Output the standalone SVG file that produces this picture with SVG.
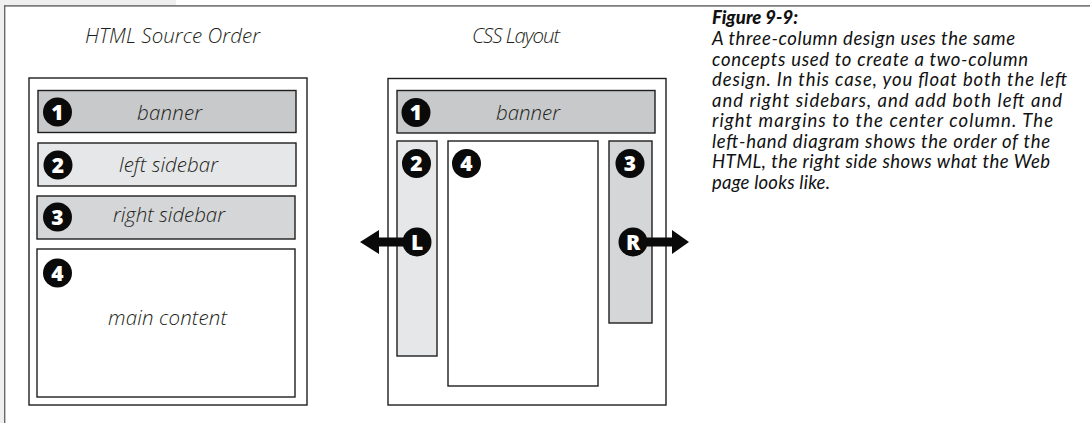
<svg xmlns="http://www.w3.org/2000/svg" width="1090" height="423" viewBox="0 0 1090 423">
  <style>
    .box { stroke: #1e1e1e; stroke-width: 1.4; }
    .outer { fill: #ffffff; }
    .banner { fill: #c8c9cb; }
    .left { fill: #e6e7e8; }
    .right { fill: #d5d6d8; }
    .main { fill: #ffffff; }
    .lbl { font-family: "Open Sans", "Liberation Sans", sans-serif; font-style: italic; font-weight: 300; font-size: 20.5px; fill: #231f20; text-anchor: middle; }
    .badge { fill: #0a0a0a; }
    .num { font-family: "Open Sans", "Liberation Sans", sans-serif; font-weight: 800; font-size: 21px; fill: #ffffff; text-anchor: middle; }
    .cap { font-family: Lato, "Liberation Sans", sans-serif; font-style: italic; font-size: 18.5px; fill: #111111; }
    .capHead { font-weight: 900; font-size: 18.5px; }
    .arrow { fill: #0a0a0a; }
  </style>

  <!-- page frame -->
  <rect x="0" y="0" width="1090" height="423" fill="#ffffff"/>
  <rect x="0" y="0" width="176" height="5" fill="#efefef"/>
  <rect x="0" y="0" width="4" height="423" fill="#efefef"/>
  <line x1="4" y1="5.8" x2="1090" y2="5.8" stroke="#7d7d7d" stroke-width="1.8"/>
  <line x1="4.7" y1="5" x2="4.7" y2="423" stroke="#6a6a6a" stroke-width="1.4"/>

  <!-- column titles -->
  <text class="lbl" x="172.5" y="43" textLength="175">HTML Source Order</text>
  <text class="lbl" x="516" y="43" textLength="88">CSS Layout</text>

  <!-- HTML source order stack -->
  <g id="source-order">
    <rect class="box outer" x="29" y="78" width="278" height="327"/>
    <g id="src-banner">
      <rect class="box banner" x="38" y="90.5" width="258" height="42"/>
      <circle class="badge" cx="57.5" cy="112" r="14.5"/>
      <text class="num" x="57.5" y="119.5">1</text>
      <text class="lbl" x="169.5" y="120" textLength="65">banner</text>
    </g>
    <g id="src-left-sidebar">
      <rect class="box left" x="38" y="143" width="258" height="43"/>
      <circle class="badge" cx="58" cy="165" r="14.5"/>
      <text class="num" x="58" y="172.5">2</text>
      <text class="lbl" x="168.5" y="172" textLength="99">left sidebar</text>
    </g>
    <g id="src-right-sidebar">
      <rect class="box right" x="37" y="196" width="258" height="43"/>
      <circle class="badge" cx="57.5" cy="217" r="14.5"/>
      <text class="num" x="57.5" y="224.5">3</text>
      <text class="lbl" x="169" y="222" textLength="112">right sidebar</text>
    </g>
    <g id="src-main">
      <rect class="box main" x="37" y="249" width="258" height="148"/>
      <circle class="badge" cx="57.5" cy="273" r="14.5"/>
      <text class="num" x="57.5" y="280.5">4</text>
      <text class="lbl" x="167.5" y="325" textLength="119">main content</text>
    </g>
  </g>

  <!-- CSS layout -->
  <g id="css-layout">
    <rect class="box outer" x="388" y="78.5" width="278" height="326.5"/>
    <g id="css-banner">
      <rect class="box banner" x="397" y="90.5" width="258" height="42.5"/>
      <circle class="badge" cx="416" cy="112.5" r="14.5"/>
      <text class="num" x="416" y="120">1</text>
      <text class="lbl" x="528" y="119.5" textLength="64">banner</text>
    </g>
    <g id="css-left-column">
      <rect class="box left" x="397" y="141" width="40" height="215"/>
      <circle class="badge" cx="416.5" cy="163.5" r="14.5"/>
      <text class="num" x="416.5" y="171">2</text>
    </g>
    <g id="css-center-column">
      <rect class="box main" x="448" y="141" width="150" height="245"/>
      <circle class="badge" cx="466.5" cy="163.5" r="14.5"/>
      <text class="num" x="466.5" y="171">4</text>
    </g>
    <g id="css-right-column">
      <rect class="box right" x="609" y="141" width="43" height="182"/>
      <circle class="badge" cx="630" cy="163.5" r="14.5"/>
      <text class="num" x="630" y="171">3</text>
    </g>
  </g>

  <!-- float arrows, drawn over the page box -->
  <g id="connectors">
    <polygon class="arrow" points="360,242 379,230 379,237.5 410,237.5 410,246.5 379,246.5 379,254"/>
    <polygon class="arrow" points="689,242 672,230 672,237.5 640,237.5 640,246.5 672,246.5 672,254"/>
  </g>

  <!-- float markers sit on the arrow tails -->
  <g id="float-left">
    <circle class="badge" cx="417" cy="242" r="14.5"/>
    <text class="num" x="417" y="249.5">L</text>
  </g>
  <g id="float-right">
    <circle class="badge" cx="633" cy="242" r="14.5"/>
    <text class="num" x="633" y="249.5">R</text>
  </g>

  <!-- caption -->
  <g id="caption">
    <text class="cap capHead" x="712" y="24">Figure 9-9:</text>
    <text class="cap" x="712" y="45" textLength="303">A three-column design uses the same</text>
    <text class="cap" x="712" y="65.5" textLength="316">concepts used to create a two-column</text>
    <text class="cap" x="712" y="86" textLength="355">design. In this case, you float both the left</text>
    <text class="cap" x="712" y="106.5" textLength="350">and right sidebars, and add both left and</text>
    <text class="cap" x="712" y="127" textLength="341">right margins to the center column. The</text>
    <text class="cap" x="712" y="147.5" textLength="338">left-hand diagram shows the order of the</text>
    <text class="cap" x="712" y="168" textLength="338">HTML, the right side shows what the Web</text>
    <text class="cap" x="712" y="188.5" textLength="118">page looks like.</text>
  </g>
</svg>
